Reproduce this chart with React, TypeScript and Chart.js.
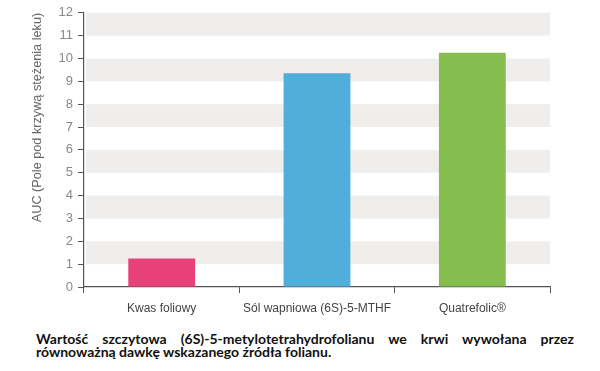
import React, { useEffect, useRef } from "react";
import { Chart, registerables } from "chart.js";

Chart.register(...registerables);

const categories = ["Kwas foliowy", "Sól wapniowa (6S)-5-MTHF", "Quatrefolic®"];
const values = [1.25, 9.35, 10.25];
const barColors = ["#e8417a", "#4fafda", "#84bd4e"];
const yTicks = [0, 1, 2, 3, 4, 5, 6, 7, 8, 9, 10, 11, 12];
const yTitle = "AUC (Pole pod krzywą stężenia leku)";
const captionLine1 = "Wartość szczytowa (6S)-5-metylotetrahydrofolianu we krwi wywołana przez";
const captionLine2 = "równoważną dawkę wskazanego źródła folianu.";

const bandsPlugin = {
  id: "bands",
  beforeDatasetsDraw(chart: any) {
    const { ctx, chartArea, scales } = chart;
    const y = scales.y;
    ctx.save();
    ctx.fillStyle = "#f0eeed";
    for (let v = 1; v < 12; v += 2) {
      const top = y.getPixelForValue(v + 1);
      const bot = y.getPixelForValue(v);
      ctx.fillRect(chartArea.left + 2, top, chartArea.right - chartArea.left - 2, bot - top);
    }
    ctx.restore();
  },
};

export default function App() {
  const ref = useRef<HTMLCanvasElement>(null);
  useEffect(() => {
    const chart = new Chart(ref.current!, {
      type: "bar",
      data: {
        labels: categories,
        datasets: [
          {
            data: values,
            backgroundColor: barColors,
            borderWidth: 0,
            barPercentage: 0.43,
            categoryPercentage: 1,
          },
        ],
      },
      options: {
        animation: false,
        responsive: false,
        maintainAspectRatio: false,
        layout: { padding: { left: 30, right: 50, top: 12, bottom: 0 } },
        plugins: { legend: { display: false }, tooltip: { enabled: false } },
        scales: {
          x: {
            offset: true,
            grid: {
              offset: true,
              drawOnChartArea: false,
              drawTicks: true,
              tickLength: 6,
              color: "#555",
            },
            border: { color: "#555", width: 1.2 },
            ticks: {
              color: "#444",
              font: { family: "Liberation Sans", size: 12 },
              padding: 8,
              maxRotation: 0,
            },
            afterFit(scale: any) {
              scale.height = 33;
            },
          },
          y: {
            min: 0,
            max: 12,
            afterBuildTicks(scale: any) {
              scale.ticks = yTicks.map((v) => ({ value: v }));
            },
            grid: {
              drawOnChartArea: false,
              drawTicks: true,
              tickLength: 6,
              color: "#555",
            },
            border: { color: "#555", width: 1.2 },
            ticks: {
              color: "#888",
              font: { family: "Liberation Sans", size: 13 },
              padding: 5,
            },
            title: {
              display: true,
              text: yTitle,
              align: "end",
              color: "#666",
              font: { family: "Liberation Sans", size: 12.7 },
              padding: { top: 0, bottom: 0 },
            },
            afterFit(scale: any) {
              scale.width = 54;
            },
          },
        },
      },
      plugins: [bandsPlugin],
    });
    return () => chart.destroy();
  }, []);

  return (
    <div style={{ position: "absolute", left: 0, top: 0, width: 600, height: 371, background: "#fff" }}>
      <canvas ref={ref} width={600} height={320} style={{ position: "absolute", left: 0, top: 0, width: 600, height: 320 }} />
      <div
        style={{
          position: "absolute",
          left: 36,
          top: 332,
          width: 538,
          fontFamily: "Lato, sans-serif",
          fontWeight: "bold",
          fontSize: 14,
          lineHeight: "13px",
          color: "#111",
        }}
      >
        <div style={{ textAlign: "justify", textAlignLast: "justify", whiteSpace: "nowrap" as any }}>{captionLine1}</div>
        <div style={{ textAlign: "left" }}>{captionLine2}</div>
      </div>
    </div>
  );
}
